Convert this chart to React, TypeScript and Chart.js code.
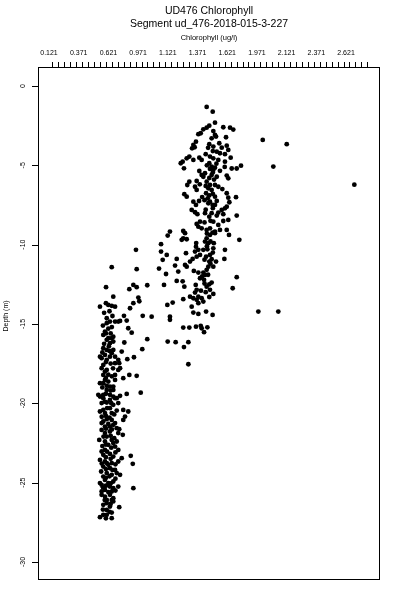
import React, { useEffect, useRef } from "react";
import { Chart, registerables } from "chart.js";

Chart.register(...registerables);

const TITLE = "UD476 Chlorophyll";
const SUBTITLE = "Segment ud_476-2018-015-3-227";
const X_LABEL = "Chlorophyll (ug/l)";
const Y_LABEL = "Depth (m)";

const xTickValues = [0.121, 0.371, 0.621, 0.871, 1.121, 1.371, 1.621, 1.871, 2.121, 2.371, 2.621];
const xTickLabels = ["0.121", "0.371", "0.621", "0.971", "1.121", "1.371", "1.621", "1.971", "2.121", "2.371", "2.621"];
const xMinorTicks = [
  0.15, 0.2, 0.25, 0.3, 0.35, 0.4, 0.45, 0.5, 0.55, 0.6, 0.65, 0.7, 0.75, 0.8, 0.85, 0.9, 0.95, 1.0,
  1.05, 1.1, 1.15, 1.2, 1.25, 1.3, 1.35, 1.4, 1.45, 1.5, 1.55, 1.6, 1.65, 1.7, 1.75, 1.8, 1.85, 1.9,
  1.95, 2.0, 2.05, 2.1, 2.15, 2.2, 2.25, 2.3, 2.35, 2.4, 2.45, 2.5, 2.55, 2.6, 2.65, 2.7, 2.75, 2.8,
];
const yTickValues = [0, -5, -10, -15, -20, -25, -30];
const X_MIN = 0.0284;
const X_MAX = 2.907;
const Y_MIN = -31.14;
const Y_MAX = 1.197;

// [chlorophyll (ug/l), depth (m)]
const outliers = [
  [1.92, -3.4], [2.122, -3.67], [2.009, -5.08], [2.691, -6.22], [1.883, -14.22], [2.051, -14.22],
];

const upperCluster = [
  [1.448, -1.32], [1.499, -1.62], [1.518, -2.31], [1.47, -2.5], [1.448, -2.63], [1.588, -2.6], [1.645, -2.63],
  [1.672, -2.75], [1.42, -2.73], [1.398, -2.98], [1.378, -3.04], [1.504, -2.84], [1.518, -3.09], [1.527, -3.19],
  [1.611, -3.23], [1.358, -3.51], [1.336, -3.72], [1.325, -3.93], [1.347, -3.86], [1.47, -3.67], [1.504, -3.82],
  [1.554, -3.61], [1.575, -3.89], [1.617, -3.76], [1.63, -4.03], [1.533, -4.14], [1.56, -4.24], [1.602, -4.3],
  [1.65, -4.52], [1.302, -4.45], [1.28, -4.56], [1.246, -4.77], [1.23, -4.87], [1.336, -4.66], [1.386, -4.52],
  [1.406, -4.66], [1.476, -4.45], [1.504, -4.56], [1.546, -4.66], [1.602, -4.77], [1.257, -5.19], [1.47, -4.87],
  [1.49, -5.08], [1.476, -5.23], [1.504, -5.29], [1.518, -5.15], [1.659, -5.2], [1.701, -5.2], [1.737, -5.02],
  [1.386, -5.36], [1.406, -5.61], [1.434, -5.5], [1.42, -5.72], [1.49, -5.61], [1.533, -5.72], [1.617, -5.65],
  [1.63, -5.82], [1.302, -6.03], [1.285, -6.24], [1.364, -5.99], [1.448, -6.03], [1.476, -6.24], [1.462, -6.45],
  [1.49, -6.55], [1.518, -6.24], [1.546, -6.35], [1.35, -6.35], [1.364, -6.55], [1.617, -6.76], [1.26, -6.82],
  [1.28, -6.98], [1.443, -6.76], [1.457, -7.08], [1.462, -7.39], [1.476, -7.29], [1.518, -6.98], [1.533, -7.25],
  [1.518, -7.5], [1.63, -7.04], [1.639, -7.33], [1.617, -7.61], [1.695, -7.01], [1.336, -7.29], [1.358, -7.5],
  [1.384, -7.25], [1.575, -7.81], [1.588, -8.08], [1.322, -7.81], [1.35, -7.96], [1.37, -8.08], [1.434, -8.02],
  [1.47, -8.24], [1.49, -8.02], [1.533, -8.17], [1.546, -7.98], [1.701, -8.17], [1.392, -8.55], [1.378, -8.87],
  [1.406, -8.97], [1.364, -8.7], [1.504, -8.55], [1.546, -8.76], [1.588, -8.51], [1.63, -8.44], [1.448, -9.07],
  [1.476, -8.97], [1.518, -9.18], [1.56, -9.07], [1.617, -9.07], [1.139, -9.18], [1.251, -9.14], [1.498, -7.5],
  [1.602, -7.71],
  [1.49, -3.3], [1.46, -3.9], [1.5, -4.1], [1.44, -4.3], [1.53, -4.9], [1.45, -5.0], [1.5, -5.45], [1.47, -5.8],
  [1.51, -5.9], [1.44, -6.3], [1.5, -6.8], [1.47, -6.9], [1.43, -7.2], [1.5, -7.7], [1.44, -7.8], [1.48, -8.5],
  [1.43, -8.6], [1.58, -6.5], [1.56, -5.35], [1.6, -5.1], [1.39, -6.2], [1.41, -7.0],
];

const middleBand = [
  [1.498, -9.24], [1.476, -9.39], [1.518, -9.28], [1.636, -9.39], [1.266, -9.28], [1.251, -9.6], [1.28, -9.66],
  [1.238, -9.7], [1.12, -9.43], [1.448, -9.6], [1.434, -9.81], [1.462, -9.91], [1.508, -9.91], [1.504, -10.23],
  [1.723, -9.7], [1.064, -9.97], [1.064, -10.44], [1.112, -10.65], [0.853, -10.33], [1.358, -10.13], [1.378, -10.33],
  [1.35, -10.44], [1.392, -10.65], [1.364, -10.76], [1.42, -10.33], [1.454, -10.29], [1.476, -10.65], [1.443, -10.76],
  [1.602, -10.33], [1.274, -10.54], [1.078, -10.96], [1.196, -10.9], [1.308, -11.07], [1.266, -11.28], [1.28, -11.39],
  [1.47, -11.07], [1.49, -10.92], [1.527, -11.07], [1.504, -11.39], [1.597, -10.9], [1.462, -11.39], [1.448, -11.59],
  [1.42, -11.76], [1.434, -11.91], [1.182, -11.32], [1.209, -11.7], [1.106, -11.85], [1.047, -11.51], [1.34, -11.66],
  [1.378, -11.76], [1.392, -12.12], [0.859, -11.55], [1.701, -12.05], [1.196, -12.29], [1.246, -12.31], [1.26, -12.65],
  [1.49, -12.39], [1.426, -12.22], [1.448, -12.65], [1.476, -12.85], [1.504, -13.11], [1.356, -12.54], [1.364, -12.85],
  [1.667, -12.75], [1.089, -12.54], [0.948, -12.56], [0.831, -12.54], [0.859, -12.68], [0.797, -12.81], [1.35, -13.02],
  [1.378, -13.28], [1.336, -13.38], [1.251, -13.44], [1.162, -13.65], [1.117, -13.8], [0.873, -13.34], [0.881, -13.57],
  [0.831, -13.69], [1.406, -13.38], [1.42, -13.59], [1.378, -13.69], [1.364, -13.48], [1.308, -13.28], [1.322, -13.91],
  [1.336, -14.28], [1.378, -14.37], [1.443, -14.22], [1.498, -14.43], [1.139, -14.54], [1.139, -14.74], [0.91, -14.49],
  [0.985, -14.54], [0.803, -14.01], [1.251, -15.23], [1.302, -15.23], [1.358, -15.17], [1.398, -15.12], [1.406, -15.27],
  [1.454, -15.21], [1.426, -15.52], [0.817, -15.55], [0.948, -15.96], [0.906, -16.59], [0.836, -17.1], [1.12, -16.11],
  [1.187, -16.15], [1.294, -16.15], [1.257, -16.46], [1.294, -17.54], [0.752, -14.49], [0.775, -14.79], [0.719, -14.81],
  [0.788, -15.27], [0.755, -16.17], [0.733, -16.74], [0.78, -17.22], [0.712, -17.47], [0.719, -17.79], [0.677, -18.21],
  [0.746, -18.42], [0.797, -18.21], [0.859, -18.27], [0.893, -19.33], [0.775, -19.41], [0.719, -19.53], [0.809, -23.31],
  [0.826, -23.82], [0.831, -25.35], [0.712, -26.55], [0.742, -21.99], [0.712, -21.63], [0.761, -20.84], [0.746, -21.05],
  [0.788, -20.52], [0.746, -20.42], [0.733, -23.46], [0.704, -22.94], [0.649, -11.42], [0.601, -12.68],
  [1.45, -9.3], [1.48, -9.8], [1.45, -10.1], [1.5, -10.5], [1.43, -10.95], [1.48, -11.2], [1.46, -11.9], [1.41, -12.0],
  [1.43, -12.45], [1.47, -12.5], [1.4, -12.9], [1.44, -13.0], [1.47, -13.3], [1.36, -9.9], [1.33, -10.9],
];

const lowerColumn = [
  [0.55, -13.91], [0.6, -13.69], [0.62, -13.8], [0.649, -13.86], [0.677, -13.91], [0.662, -13.28], [0.677, -14.85],
  [0.634, -14.85], [0.607, -14.64], [0.607, -14.95], [0.704, -14.85], [0.592, -15.48], [0.578, -15.69], [0.62, -15.9],
  [0.649, -15.9], [0.662, -15.8], [0.662, -16.11], [0.634, -16.21], [0.607, -16.0], [0.578, -16.53], [0.607, -16.64],
  [0.592, -16.95], [0.564, -17.16], [0.607, -17.26], [0.634, -17.06], [0.649, -16.84], [0.662, -16.64], [0.677, -17.06],
  [0.704, -17.26], [0.55, -17.06], [0.578, -17.58], [0.564, -17.79], [0.592, -18.0], [0.607, -17.9], [0.578, -18.21],
  [0.677, -17.47], [0.704, -17.9], [0.592, -18.53], [0.62, -18.63], [0.578, -18.73], [0.607, -18.9], [0.662, -18.95],
  [0.662, -19.16], [0.634, -18.95], [0.677, -18.53], [0.55, -18.73], [0.607, -19.16], [0.634, -19.47], [0.536, -19.47],
  [0.578, -19.47], [0.662, -19.58], [0.677, -19.68], [0.55, -19.58], [0.578, -19.68], [0.634, -19.79], [0.691, -19.68],
  [0.704, -19.99], [0.564, -19.99], [0.607, -19.95], [0.662, -20.1], [0.634, -20.31], [0.578, -20.42], [0.55, -20.52],
  [0.592, -20.62], [0.649, -20.62], [0.691, -20.46], [0.578, -21.15], [0.607, -21.0], [0.649, -21.05], [0.677, -21.25],
  [0.634, -21.47], [0.662, -21.36], [0.564, -21.25], [0.592, -21.47], [0.691, -21.57], [0.704, -21.88], [0.564, -21.68],
  [0.592, -21.88], [0.607, -22.1], [0.634, -21.78], [0.592, -22.41], [0.649, -22.31], [0.662, -22.51], [0.62, -22.62],
  [0.677, -22.73], [0.544, -22.31], [0.691, -22.41], [0.564, -23.04], [0.592, -22.94], [0.634, -23.19], [0.578, -23.25],
  [0.662, -23.36], [0.55, -23.57], [0.607, -23.77], [0.704, -23.67], [0.592, -23.67], [0.62, -23.88], [0.649, -23.77],
  [0.578, -23.99], [0.634, -24.09], [0.677, -24.2], [0.607, -24.4], [0.578, -24.62], [0.649, -24.51], [0.691, -24.4],
  [0.719, -24.51], [0.592, -24.83], [0.62, -25.03], [0.564, -25.14], [0.634, -25.25], [0.592, -25.46], [0.662, -25.35],
  [0.649, -25.56], [0.55, -25.03], [0.662, -24.93], [0.704, -25.25], [0.564, -25.56], [0.564, -25.77], [0.592, -25.88],
  [0.634, -25.77], [0.662, -25.98], [0.607, -26.09], [0.649, -26.09], [0.607, -26.3], [0.662, -26.19], [0.634, -26.51],
  [0.578, -26.4], [0.607, -26.72], [0.578, -27.03], [0.55, -27.18], [0.649, -26.89], [0.649, -27.24], [0.607, -27.03],
  [0.585, -14.3], [0.63, -14.2], [0.655, -14.5], [0.575, -15.1], [0.62, -15.3], [0.65, -15.2], [0.6, -15.6],
  [0.64, -15.6], [0.585, -16.25], [0.625, -16.4], [0.57, -16.8], [0.63, -16.7], [0.6, -17.4], [0.64, -17.5],
  [0.66, -17.8], [0.62, -18.2], [0.65, -18.3], [0.6, -18.4], [0.57, -19.0], [0.64, -19.2], [0.6, -19.4],
  [0.59, -19.9], [0.645, -20.0], [0.61, -20.3], [0.67, -20.7], [0.6, -20.8], [0.63, -20.9], [0.565, -20.85],
  [0.62, -21.3], [0.6, -21.6], [0.65, -21.65], [0.58, -22.1], [0.64, -22.05], [0.67, -22.2], [0.6, -22.6],
  [0.57, -22.7], [0.645, -22.8], [0.61, -23.05], [0.68, -23.1], [0.6, -23.4], [0.64, -23.5], [0.565, -23.8],
  [0.68, -23.85], [0.6, -24.15], [0.655, -24.2], [0.56, -24.3], [0.63, -24.6], [0.6, -24.7], [0.68, -24.75],
  [0.575, -25.3], [0.64, -25.05], [0.6, -25.2], [0.68, -25.5], [0.62, -25.6], [0.59, -26.1], [0.64, -26.35],
  [0.575, -26.7], [0.63, -26.85], [0.6, -27.25],
];

const FONT = '"Liberation Sans", Arial, Helvetica, sans-serif';

const framePlugin = {
  id: "framePlugin",
  afterDraw(chart: any) {
    const { ctx, chartArea: a, scales } = chart;
    const xs = scales.x;
    const ys = scales.y;
    ctx.save();
    ctx.strokeStyle = "#000";
    ctx.fillStyle = "#000";
    ctx.lineWidth = 1;
    ctx.strokeRect(Math.round(a.left) + 0.5, Math.round(a.top) + 0.5, Math.round(a.right - a.left) - 1, Math.round(a.bottom - a.top) - 1);

    // x minor ticks (top)
    ctx.beginPath();
    for (const v of xMinorTicks) {
      const px = Math.round(xs.getPixelForValue(v)) + 0.5;
      ctx.moveTo(px, a.top);
      ctx.lineTo(px, a.top - 5);
    }
    ctx.stroke();

    // x tick labels
    ctx.font = `7px ${FONT}`;
    ctx.textAlign = "center";
    ctx.textBaseline = "middle";
    xTickValues.forEach((v, i) => {
      ctx.fillText(xTickLabels[i], xs.getPixelForValue(v), a.top - 14);
    });

    // y ticks
    ctx.beginPath();
    for (const v of yTickValues) {
      const py = Math.round(ys.getPixelForValue(v)) + 0.5;
      ctx.moveTo(a.left, py);
      ctx.lineTo(a.left - 6, py);
    }
    ctx.stroke();
    for (const v of yTickValues) {
      const py = ys.getPixelForValue(v);
      ctx.save();
      ctx.translate(a.left - 15, py);
      ctx.rotate(-Math.PI / 2);
      ctx.font = `7px ${FONT}`;
      ctx.textAlign = "center";
      ctx.textBaseline = "middle";
      ctx.fillText(String(v), 0, 0);
      ctx.restore();
    }

    // titles
    const cx = (a.left + a.right) / 2;
    ctx.textAlign = "center";
    ctx.textBaseline = "middle";
    ctx.font = `10.5px ${FONT}`;
    ctx.fillText(TITLE, cx, 11);
    ctx.fillText(SUBTITLE, cx, 24);
    ctx.font = `7.5px ${FONT}`;
    ctx.fillText(X_LABEL, cx, 38);

    // y label
    ctx.save();
    ctx.translate(6, 316);
    ctx.rotate(-Math.PI / 2);
    ctx.font = `7px ${FONT}`;
    ctx.textAlign = "center";
    ctx.textBaseline = "middle";
    ctx.fillText(Y_LABEL, 0, 0);
    ctx.restore();
    ctx.restore();
  },
};

export default function App() {
  const canvasRef = useRef<HTMLCanvasElement | null>(null);

  useEffect(() => {
    if (!canvasRef.current) return;
    const all = [...upperCluster, ...middleBand, ...lowerColumn, ...outliers];
    const chart = new Chart(canvasRef.current, {
      type: "scatter",
      data: {
        datasets: [
          {
            data: all.map(([x, y]) => ({ x, y })),
            backgroundColor: "#000",
            borderColor: "#000",
            pointRadius: 2.4,
            pointBorderWidth: 0,
            pointStyle: "circle",
          },
        ],
      },
      options: {
        responsive: false,
        animation: false,
        devicePixelRatio: 1,
        layout: { padding: { left: 38, top: 67, right: 20, bottom: 20 } },
        scales: {
          x: { type: "linear", display: false, min: X_MIN, max: X_MAX },
          y: { type: "linear", display: false, min: Y_MIN, max: Y_MAX },
        },
        plugins: {
          legend: { display: false },
          tooltip: { enabled: false },
          title: { display: false },
        },
      },
      plugins: [framePlugin],
    });
    return () => chart.destroy();
  }, []);

  return (
    <div style={{ position: "fixed", left: 0, top: 0, width: 400, height: 600, background: "#fff" }}>
      <canvas ref={canvasRef} width={400} height={600} style={{ width: 400, height: 600, display: "block" }} />
    </div>
  );
}
